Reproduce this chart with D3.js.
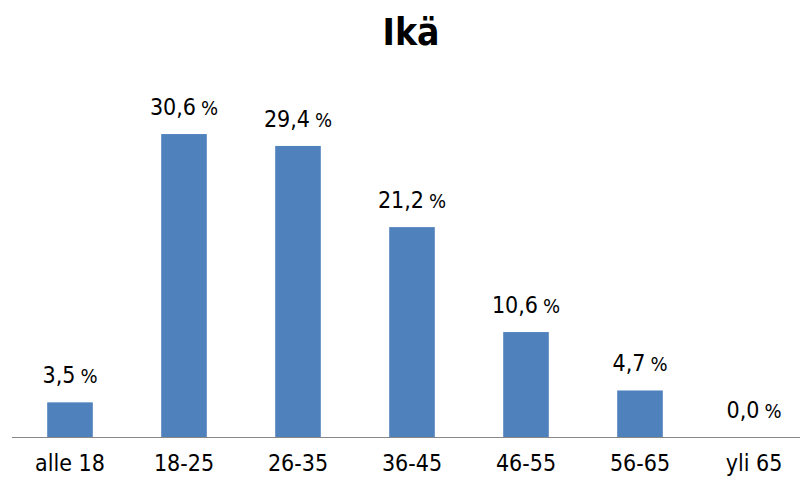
<!DOCTYPE html>
<html>
<head>
<meta charset="utf-8">
<script src="https://cdn.jsdelivr.net/npm/d3@7"></script>
<style>
  body { margin: 0; background: #fff; }
  text { font-family: "DejaVu Sans Condensed", "DejaVu Sans", sans-serif; font-stretch: condensed; fill: #000; }
</style>
</head>
<body>
<svg id="chart" width="800" height="479"></svg>
<script>
const title = 'Ikä';
const categories = ['alle 18', '18-25', '26-35', '36-45', '46-55', '56-65', 'yli 65'];
const values = [3.5, 30.6, 29.4, 21.2, 10.6, 4.7, 0.0];

const svg = d3.select('svg#chart');
const baseline = 437;

const xScale = d3.scaleBand()
    .range([13, 811])
    .domain(categories)
    .paddingInner(0.6)
    .paddingOuter(0.3);

const yScale = d3.scaleLinear()
    .range([baseline, baseline - 35 * 9.9])
    .domain([0, 35]);

const data = categories.map((c, i) => ({ cat: c, value: values[i] }));

// bars
svg.selectAll('rect.bar')
    .data(data)
    .enter()
    .append('rect')
    .attr('class', 'bar')
    .attr('x', d => xScale(d.cat))
    .attr('y', d => yScale(d.value))
    .attr('width', xScale.bandwidth())
    .attr('height', d => baseline - yScale(d.value))
    .style('fill', '#4f81bd');

// x axis
const xAxis = svg.append('g')
    .attr('transform', `translate(0, ${baseline})`)
    .call(d3.axisBottom(xScale).tickSize(0).tickPadding(18));
xAxis.select('.domain').attr('d', 'M12,0.5H800').attr('stroke', '#888');
xAxis.selectAll('text')
    .style('font-size', '23px')
    .attr('dy', '0.71em');

// value labels
const labels = svg.selectAll('text.val')
    .data(data)
    .enter()
    .append('text')
    .attr('class', 'val')
    .attr('x', d => xScale(d.cat) + xScale.bandwidth() / 2)
    .attr('y', d => yScale(d.value) - 19)
    .attr('text-anchor', 'middle')
    .style('font-size', '23px');
labels.append('tspan').text(d => d.value.toFixed(1).replace('.', ','));
labels.append('tspan').attr('dx', 5).style('font-size', '20px').text('%');

// title
svg.append('text')
    .attr('x', 411)
    .attr('y', 45)
    .attr('text-anchor', 'middle')
    .style('font-size', '37px')
    .style('font-weight', 'bold')
    .text(title);
</script>
</body>
</html>
